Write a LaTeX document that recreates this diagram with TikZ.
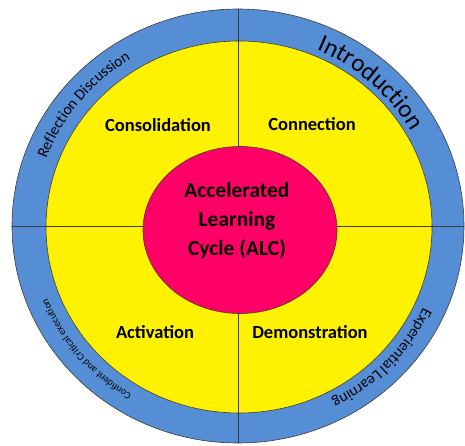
\documentclass[tikz,border=0pt]{standalone}
\usepackage{fontspec}
\setmainfont{Carlito}
\usepackage{tikz}
\usetikzlibrary{shapes,decorations.text}
\usepackage{xcolor}
\definecolor{ringblue}{RGB}{85,142,213}
\definecolor{alcpink}{RGB}{255,0,102}
\definecolor{edgegray}{RGB}{60,60,60}
\newcommand\ringfont{\fontsize{15.5}{18}\selectfont}
\newcommand\bigringfont{\fontsize{25}{28}\selectfont}
\newcommand\tinyringfont{\fontsize{10}{12}\selectfont}

\begin{document}
\begin{tikzpicture}[x=1pt,y=1pt]

\useasboundingbox (-238,-220) rectangle (227,226);

%% Rings

\node[ellipse, draw = edgegray, fill=ringblue, line width=0.6pt, minimum width=452pt, minimum height=434pt, inner sep=0pt](outer) at (0,0){};
\node[ellipse, draw = edgegray, fill=yellow, line width=0.6pt, minimum width=386pt, minimum height=372pt, inner sep=0pt](inner) at (1,-1){};

% quarter lines
\draw[edgegray, line width=0.6pt] (outer.north) -- (outer.south);
\draw[edgegray, line width=0.6pt] (outer.west) -- (outer.east);

\node[ellipse, draw = edgegray, fill=alcpink, line width=0.6pt, minimum width=194pt, minimum height=167pt, inner sep=0pt](alc) at (2,-4){};
\node[align=center, font=\fontsize{21.5}{29}\selectfont\bfseries](alctext) at (-1,5){Accelerated\\Learning\\Cycle (ALC)};

% Phases
\node[font=\fontsize{18.5}{22}\selectfont\bfseries](q1) at (-80,101){Consolidation};
\node[font=\fontsize{18.5}{22}\selectfont\bfseries](q2) at (74,102){Connection};
\node[font=\fontsize{18.5}{22}\selectfont\bfseries](q3) at (-83,-106){Activation};
\node[font=\fontsize{18.5}{22}\selectfont\bfseries](q4) at (72,-106){Demonstration};

% Ring texts
\path[decorate, decoration={text along path, text align=center, text={|\ringfont|Reflection Discussion}}]
(171:204pt and 196pt) arc[start angle=171, end angle=111, x radius=204pt, y radius=196pt];

\path[decorate, decoration={text along path, text align=center, text={|\bigringfont|Introduction}}]
(78:199pt and 192pt) arc[start angle=78, end angle=18, x radius=199pt, y radius=192pt];

\path[decorate, decoration={text along path, text align=center, text={|\ringfont|Experiential Learning}}]
(-13.5:204pt and 196pt) arc[start angle=-13.5, end angle=-73.5, x radius=204pt, y radius=196pt];

\path[decorate, decoration={text along path, text align=center, text={|\tinyringfont|Confident and Critical execution}}]
(250:205pt and 197pt) arc[start angle=250, end angle=190, x radius=205pt, y radius=197pt];

\end{tikzpicture}
\end{document}
